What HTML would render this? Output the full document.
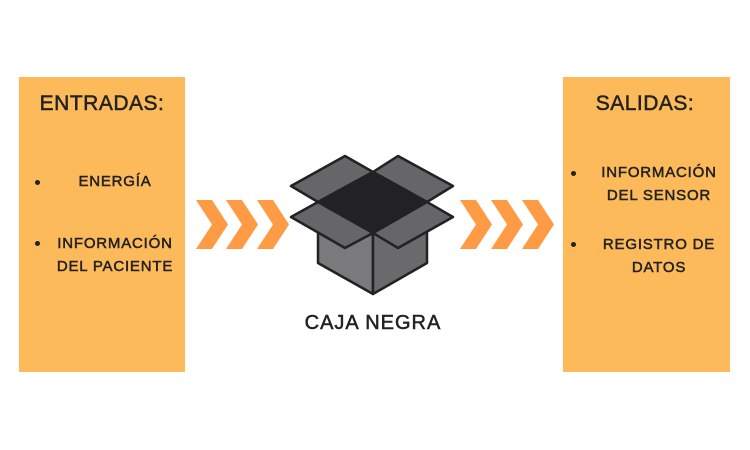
<!DOCTYPE html>
<html><head><meta charset="utf-8"><style>
body{margin:0;width:750px;height:450px;background:#fff;position:relative;overflow:hidden;font-family:"Liberation Sans","DejaVu Sans",sans-serif;color:#222;}
.box{position:absolute;background:#FDBA5A;top:77px;height:295px;}
.t{position:absolute;white-space:nowrap;text-align:center;font-weight:bold;}
.h{font-size:21px;font-weight:normal;letter-spacing:0.5px;-webkit-text-stroke:0.5px #222;}
.s{font-size:15px;line-height:23px;letter-spacing:0.8px;font-weight:normal;-webkit-text-stroke:0.5px #222;}
.dot{position:absolute;width:5px;height:5px;border-radius:50%;background:#222;}
</style></head><body>
<div class="box" style="left:19px;width:166px"></div>
<div class="box" style="left:563px;width:167px"></div>

<div class="t h" style="left:19px;width:166px;top:92px">ENTRADAS:</div>
<div class="dot" style="left:35px;top:180px"></div>
<div class="t s" style="left:52px;width:126px;top:170px">ENERGÍA</div>
<div class="dot" style="left:35px;top:241px"></div>
<div class="t s" style="left:50px;width:130px;top:232px">INFORMACIÓN<br>DEL PACIENTE</div>

<div class="t h" style="left:590px;width:110px;top:92px">SALIDAS:</div>
<div class="dot" style="left:571px;top:171px"></div>
<div class="t s" style="left:588px;width:142px;top:161px">INFORMACIÓN<br>DEL SENSOR</div>
<div class="dot" style="left:571px;top:242px"></div>
<div class="t s" style="left:593px;width:132px;top:233px">REGISTRO DE<br>DATOS</div>

<div class="t" style="left:273px;width:200px;top:312px;font-size:20px;font-weight:normal;letter-spacing:1px;-webkit-text-stroke:0.5px #222">CAJA NEGRA</div>

<svg width="750" height="450" style="position:absolute;left:0;top:0">
<g fill="#FF9A45">
<polygon points="196,200 212,200 228,224.5 212,249 196,249 212,224.5"/>
<polygon points="226,200 242,200 258,224.5 242,249 226,249 242,224.5"/>
<polygon points="257,200 273,200 289,224.5 273,249 257,249 273,224.5"/>
<polygon points="460,200 476,200 492,224.5 476,249 460,249 476,224.5"/>
<polygon points="491,200 507,200 523,224.5 507,249 491,249 507,224.5"/>
<polygon points="522,200 538,200 554,224.5 538,249 522,249 538,224.5"/>
</g>
<g stroke="#222" stroke-width="2.5" stroke-linejoin="round">
<polygon points="318,208 373,233 373,294 318,263" fill="#7a7a7c"/>
<polygon points="427,208 373,233 373,294 427,263" fill="#6a6a6c"/>
<polygon points="291,186 345,156 373,172 318,202" fill="#666668"/>
<polygon points="373,172 398,156 453,186 427,202" fill="#666668"/>
<polygon points="373,172 427,202 373,233 318,202" fill="#222225"/>
<polygon points="318,202 373,233 345,248 291,217" fill="#666668"/>
<polygon points="427,202 453,217 398,248 373,233" fill="#666668"/>
</g>
</svg>
</body></html>
